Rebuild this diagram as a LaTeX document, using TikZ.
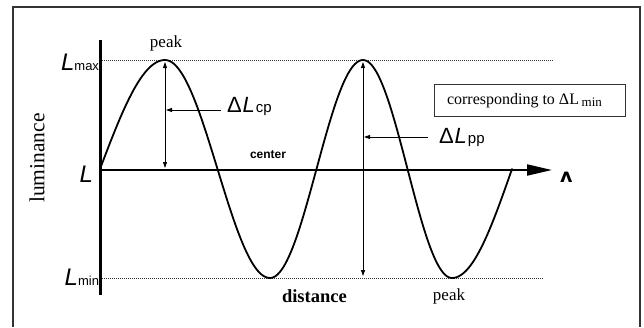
\documentclass[tikz,border=0pt]{standalone}
\usepackage{fontspec}
\setmainfont{Liberation Serif}
\setsansfont{Liberation Sans}
\newfontfamily\dvsans{DejaVu Sans}
\usetikzlibrary{arrows.meta}
\tikzset{
  frameline/.style={line width=1.4pt, draw=black!80},
  axisline/.style={line width=2pt},
  yaxisline/.style={line width=3pt},
  levelline/.style={line width=0.9pt, dash pattern=on 1pt off 1pt, draw=black!80},
  wave/.style={line width=1.8pt, line join=round, line cap=round},
  measure/.style={line width=0.8pt, {Triangle[length=6pt,width=4pt]}-{Triangle[length=6pt,width=4pt]}},
  leader/.style={line width=0.8pt, -{Triangle[length=6pt,width=4pt]}},
  lbl/.style={inner sep=0pt, outer sep=0pt},
}
\begin{document}
\begin{tikzpicture}[x=1pt,y=-1pt]
\useasboundingbox (0,0) rectangle (644,327);
% frame (bottom edge outside picture)
\draw[frameline] (13,327) -- (13,7) -- (640,7) -- (640,327);

% named coordinates
\coordinate (O) at (100,170);
\coordinate (ytop) at (100,40);
\coordinate (ybot) at (100,295);
\coordinate (xend) at (552,170);
\coordinate (maxL) at (100,60);
\coordinate (maxR) at (553,60);
\coordinate (minL) at (100,278);
\coordinate (minR) at (543,278);
\coordinate (p1top) at (165,62);
\coordinate (p1bot) at (165,168);
\coordinate (p2top) at (363,62);
\coordinate (p2bot) at (363,276);
\coordinate (cpfrom) at (221,110);
\coordinate (cpto) at (166,110);
\coordinate (ppfrom) at (428,137);
\coordinate (ppto) at (364,137);

% level lines
\draw[levelline] (maxL) -- (maxR);
\draw[levelline] (minL) -- (minR);

% axes
\draw[axisline, -{Triangle[length=25pt,width=11pt]}] (O) -- (xend);
\draw[yaxisline] (ytop) -- (ybot);

% wave
\draw[wave] plot[domain=0:1, samples=30, variable=\t] ({100+65*\t},{169-109*sin(90*\t)});
\draw[wave] plot[domain=0:1, samples=50, variable=\t] ({165+105*\t},{169-109*cos(180*\t)});
\draw[wave] plot[domain=0:1, samples=50, variable=\t] ({270+93*\t},{169+109*cos(180*\t)});
\draw[wave] plot[domain=0:1, samples=50, variable=\t] ({363+89*\t},{169-109*cos(180*\t)});
\draw[wave] plot[domain=0:1, samples=30, variable=\t] ({452+60*\t},{169+109*cos(90*\t)});

% measures
\draw[measure] (p1bot) -- (p1top);
\draw[measure] (p2bot) -- (p2top);
\draw[leader] (cpfrom) -- (cpto);
\draw[leader] (ppfrom) -- (ppto);

% labels
\node[lbl, anchor=base east] (Lmax) at (99,70) {\sffamily\fontsize{24}{24}\selectfont\itshape L\fontsize{13}{13}\selectfont\upshape max};
\node[lbl, anchor=base east] (Lc) at (93,182) {\sffamily\fontsize{24}{24}\selectfont\itshape L};
\node[lbl, anchor=base east] (Lmin) at (99,285) {\sffamily\fontsize{24}{24}\selectfont\itshape L\fontsize{13}{13}\selectfont\upshape min};

\node[lbl, anchor=base west] (dcp) at (227,112) {\sffamily\fontsize{22}{22}\selectfont Δ\kern1pt\itshape L\kern1pt\upshape\fontsize{15}{15}\selectfont cp};
\node[lbl, anchor=base west] (dpp) at (439,143) {\sffamily\fontsize{22}{22}\selectfont Δ\kern1pt\itshape L\kern1pt\upshape\fontsize{15}{15}\selectfont pp};

\node[lbl, anchor=base] (peak1) at (166,47) {\fontsize{17}{17}\selectfont peak};
\node[lbl, anchor=base] (peak2) at (449,300) {\fontsize{17}{17}\selectfont peak};
\node[lbl, anchor=base west] (center) at (250,158) {\sffamily\bfseries\fontsize{12}{12}\selectfont center};
\node[lbl, anchor=base west] (dist) at (282,302) {\bfseries\fontsize{18.5}{18.5}\selectfont distance};
\node[lbl, rotate=90] (lum) at (37,158) {\fontsize{21.5}{21.5}\selectfont luminance};
\node[lbl, anchor=base west] (lam) at (560,182) {\dvsans\bfseries\fontsize{19}{19}\selectfont ʌ};

\node[draw=black!80, line width=1.2pt, minimum width=191pt, minimum height=32pt, inner sep=0pt, anchor=north west] (box) at (434,84) {};
\node[lbl, anchor=base west] (corr) at (447,104) {\fontsize{16}{16}\selectfont corresponding to ΔL\,\raisebox{-2pt}{\fontsize{13}{13}\selectfont min}};
\end{tikzpicture}
\end{document}
